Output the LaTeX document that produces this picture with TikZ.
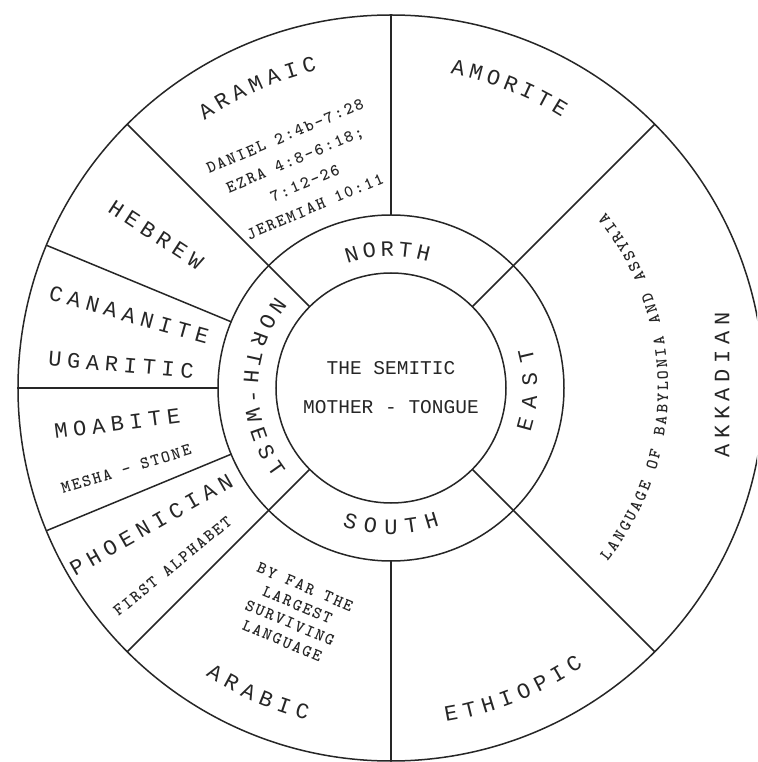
\documentclass[tikz,border=0pt]{standalone}
\usepackage{fontspec}
\newfontfamily\bigfont{Liberation Mono}
\newfontfamily\notefont{lmmonolt10-bold.otf}
\tikzset{
  ring/.style={line width=1.5pt, black!85},
  biglabel/.style={font={\bigfont\fontsize{22}{26}\selectfont}, inner sep=0pt, text=black!85},
  bigspaced/.style={font={\bigfont\fontsize{22}{26}\selectfont\addfontfeature{LetterSpace=26}}, inner sep=0pt, text=black!85},
  midlabel/.style={font={\bigfont\fontsize{19.5}{22}\selectfont}, inner sep=0pt, text=black!85},
  smalllabel/.style={font={\notefont\fontsize{17}{20}\selectfont}, inner sep=0pt, text=black!85},
  notes/.style={font={\notefont\fontsize{17}{19.5}\selectfont\addfontfeature{LetterSpace=11}}, align=center, inner sep=0pt, text=black!85}
}
% letters set one by one round an arc (step < 0: clockwise, tops outward)
\newcommand{\arclabel}[7]{%
  \foreach \ch [count=\i] in {#2} {
    \pgfmathsetmacro{\ang}{#4+(\i-(#3+1)/2)*#6}
    \pgfmathsetmacro{\rot}{\ang+90*sign(#6)}
    \node[#7, rotate=\rot] (#1-\i) at (\ang:#5) {\ch};
  }%
}
\begin{document}
\begin{tikzpicture}[x=1pt, y=1pt]
  \fill[white] (-391,-374) rectangle (366,388);
  \clip (-391,-374) rectangle (366,388);
  \draw[ring] (0,0) circle (115);
  \draw[ring] (0,0) circle (173);
  \draw[ring] (0,0) circle (373);
  \foreach \a in {45,135,225,315} \draw[ring] (\a:115) -- (\a:373);
  \foreach \a in {90,157.5,180,202.5,270} \draw[ring] (\a:173) -- (\a:373);

  \node[midlabel] (semitic) at (0,20) {THE SEMITIC};
  \node[midlabel] (tongue) at (0,-19) {MOTHER - TONGUE};

  \arclabel{north}{N,O,R,T,H}{5}{91.5}{139}{-7.5}{biglabel}
  \arclabel{east}{E,A,S,T}{4}{-1}{139}{9.5}{biglabel}
  \arclabel{south}{S,O,U,T,H}{5}{270}{139}{8.45}{biglabel}
  \arclabel{nwest}{N,O,R,T,H,-,W,E,S,T}{10}{179.5}{140}{7.9}{biglabel}

  \arclabel{aramaic}{A,R,A,M,A,I,C}{7}{114}{333}{-3.25}{biglabel}
  \arclabel{amorite}{A,M,O,R,I,T,E}{7}{68.5}{327}{-3.2}{biglabel}
  \arclabel{ethiopic}{E,T,H,I,O,P,I,C}{8}{292}{331}{3.3}{biglabel}
  \arclabel{arabic}{A,R,A,B,I,C}{6}{246.5}{335}{3.27}{biglabel}
  \arclabel{babylon}{L,A,N,G,U,A,G,E,{},O,F,{},B,A,B,Y,L,O,N,I,A,{},A,N,D,{},A,S,S,Y,R,I,A}{33}{0.35}{272}{2.38}{smalllabel}

  \node[bigspaced, rotate=90] (akkadian) at (331,3) {AKKADIAN};
  \node[bigspaced, rotate=-33.1] (hebrew) at (146.9:280.5) {HEBREW};
  \node[bigspaced, rotate=-15.6] (canaanite) at (164.4:272) {CANAANITE};
  \node[bigspaced, rotate=-4.9] (ugaritic) at (175.1:271) {UGARITIC};
  \node[bigspaced, rotate=7.4] (moabite) at (187.4:276) {MOABITE};
  \node[bigspaced, rotate=29.7] (phoenician) at (209.7:276) {PHOENICIAN};

  \node[notes, rotate=23] (refs) at (112.8:235) {DANIEL 2:4b-7:28\\[6pt]EZRA 4:8-6:18;\\[6pt]7:12-26\\[6pt]JEREMIAH 10:11};
  \node[notes, rotate=-23] (largest) at (246.7:246) {BY FAR THE\\LARGEST\\SURVIVING\\LANGUAGE};
  \node[notes, rotate=17] (mesha) at (197:277) {MESHA - STONE};
  \node[notes, rotate=39.2] (alphabet) at (219.2:282) {FIRST ALPHABET};
\end{tikzpicture}
\end{document}
